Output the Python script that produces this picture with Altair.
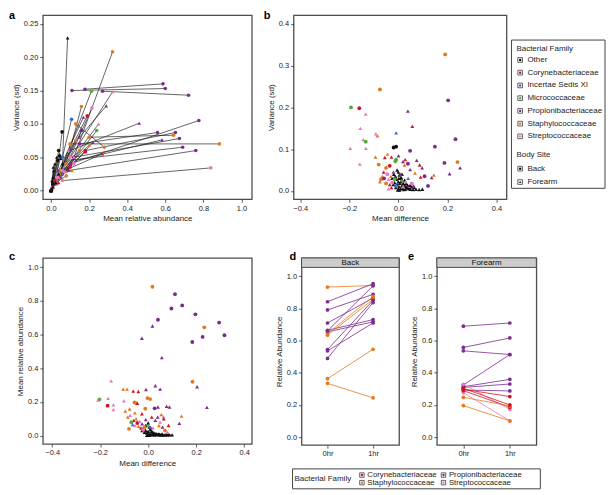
import altair as alt
import pandas as pd

FONT = "Liberation Sans"

FAMILIES = ["Other", "Corynebacteriaceae", "Incertae Sedis XI", "Micrococcaceae",
            "Propionibacteriaceae", "Staphylococcaceae", "Streptococcaceae"]
FAMILY_COLORS = ["#111111", "#D0141E", "#3A66C8", "#55AA33", "#7B2A8E", "#E2791C", "#E37AC0"]
SITES = ["Back", "Forearm"]
SITE_SHAPES = ["circle", "triangle-up"]
CODE = {"O": "Other", "C": "Corynebacteriaceae", "I": "Incertae Sedis XI", "M": "Micrococcaceae",
        "P": "Propionibacteriaceae", "S": "Staphylococcaceae", "T": "Streptococcaceae"}
SITE_CODE = {"B": "Back", "F": "Forearm"}

# ---------------- panel a: segments (start -> end) ----------------
a_x0 = [0.178, 0.110, 0.270, 0.120, 0.060, 0.150, 0.100, 0.100, 0.150, 0.180,
        0.200, 0.120, 0.130, 0.100, 0.080, 0.090, 0.060, 0.070, 0.130, 0.050,
        0.080, 0.100, 0.080, 0.060, 0.030, 0.040, 0.050, 0.060, 0.040, 0.050,
        0.030, 0.020, 0.030, 0.020, 0.020, 0.010, 0.010, 0.015, 0.010, 0.005,
        0.020, 0.030, 0.040, 0.050, 0.010, 0.000, 0.000, 0.000, 0.005, 0.000,
        0.003, 0.000, 0.000, 0.002, 0.001, 0.000, 0.060, 0.040, 0.050]
a_y0 = [0.152, 0.150, 0.149, 0.050, 0.040, 0.080, 0.060, 0.040, 0.070, 0.060,
        0.080, 0.050, 0.045, 0.070, 0.045, 0.030, 0.015, 0.030, 0.100, 0.030,
        0.040, 0.050, 0.040, 0.050, 0.020, 0.030, 0.020, 0.030, 0.020, 0.020,
        0.010, 0.010, 0.015, 0.015, 0.010, 0.005, 0.010, 0.010, 0.005, 0.005,
        0.010, 0.020, 0.020, 0.030, 0.010, 0.000, 0.000, 0.000, 0.003, 0.000,
        0.002, 0.001, 0.000, 0.001, 0.000, 0.000, 0.030, 0.020, 0.025]
a_x1 = [0.588, 0.600, 0.722, 0.323, 0.087, 0.290, 0.463, 0.776, 0.559, 0.653,
        0.643, 0.674, 0.583, 0.884, 0.691, 0.760, 0.839, 0.270, 0.280, 0.212,
        0.323, 0.215, 0.160, 0.108, 0.058, 0.170, 0.240, 0.200, 0.180, 0.220,
        0.150, 0.120, 0.090, 0.100, 0.070, 0.060, 0.050, 0.080, 0.040, 0.030,
        0.160, 0.190, 0.250, 0.130, 0.040, 0.030, 0.020, 0.015, 0.010, 0.035,
        0.025, 0.010, 0.005, 0.040, 0.012, 0.045, 0.120, 0.090, 0.110]
a_y1 = [0.160, 0.153, 0.143, 0.208, 0.229, 0.127, 0.101, 0.105, 0.087, 0.087,
        0.083, 0.078, 0.076, 0.070, 0.065, 0.060, 0.034, 0.055, 0.065, 0.149,
        0.148, 0.124, 0.126, 0.107, 0.088, 0.110, 0.090, 0.068, 0.058, 0.072,
        0.060, 0.050, 0.045, 0.035, 0.028, 0.025, 0.048, 0.022, 0.012, 0.020,
        0.090, 0.112, 0.100, 0.075, 0.060, 0.050, 0.040, 0.030, 0.020, 0.045,
        0.012, 0.006, 0.015, 0.025, 0.035, 0.052, 0.040, 0.060, 0.030]
a_fam = ("P P P S O P P P P P  S P P S P P T C S M  T T S I O P M S C P  "
         "S T M C T I O S C T  P C T S O O O O O O  O O O O O O T T S").split()
a_site = ("B B B B F F F B B B  B B F B B B B F B B  F B B B B F B F B F  "
          "B F B B B F F B F B  B B F B B F F F F B  F F F F F B B F F").split()

# ---------------- panel b: mean difference vs variance ----------------
b_x = [0.191, -0.075, 0.203, -0.193, -0.159, -0.133, 0.039, 0.057, -0.155, -0.009,
       -0.092, -0.085, -0.143, -0.133, 0.233, 0.149, -0.196, -0.132, -0.019, -0.009,
       0.048, -0.157, -0.093, -0.080, -0.055, -0.044, -0.028, 0.001, -0.009, -0.012,
       0.188, 0.241, 0.252, 0.209, 0.145, 0.136, 0.107, 0.121, 0.087, 0.091,
       0.097, 0.075, 0.068, 0.028, 0.019, 0.039, 0.048, 0.025, -0.035, -0.050,
       -0.060, -0.065, -0.070, -0.075, -0.058, -0.045, -0.040, -0.030, -0.025, -0.035,
       -0.050, -0.020, -0.015, 0.010, 0.015, 0.030, 0.040, 0.055, 0.062, -0.028,
       -0.040, -0.010, 0.020]
b_y = [0.327, 0.243, 0.217, 0.200, 0.198, 0.184, 0.191, 0.155, 0.150, 0.139,
       0.137, 0.132, 0.123, 0.118, 0.124, 0.106, 0.102, 0.102, 0.104, 0.106,
       0.096, 0.064, 0.081, 0.063, 0.080, 0.088, 0.081, 0.084, 0.075, 0.071,
       0.067, 0.069, 0.055, 0.041, 0.038, 0.032, 0.035, 0.012, 0.062, 0.033,
       0.055, 0.073, 0.043, 0.075, 0.070, 0.065, 0.051, 0.062, 0.060, 0.055,
       0.045, 0.035, 0.028, 0.022, 0.030, 0.040, 0.028, 0.035, 0.020, 0.015,
       0.018, 0.045, 0.028, 0.040, 0.025, 0.022, 0.030, 0.018, 0.012, 0.008,
       0.005, 0.012, 0.010]
b_fam = ("S S P M C T P C T I  T S T M P P T T O O  P T S S C S C P M M  "
         "P S P P S P P P C C  P P S C P P P S C S  C S S S P T T S T C  "
         "S P M P M T I T P C  T I T").split()
b_site = ("B B B B B F F F F F  F F F B B B F F B B  B F F B F F F F B B  "
          "B B F F F F B B F F  F F F F F B F F B B  F F B F B B F F B F  "
          "B F B F F F F B F F  F B F").split()
b_other_x = [-0.025, -0.018, -0.012, -0.005, 0.000, 0.004, 0.008, 0.012, 0.016, 0.020,
             0.025, 0.030, 0.035, 0.040, 0.045, 0.050, 0.060, 0.072, 0.085, 0.098,
             -0.020, -0.015, -0.010, -0.005, 0.000, 0.003, 0.006, 0.010, 0.014, 0.018,
             0.000, 0.005, 0.022, 0.028, -0.008, 0.010, 0.032, 0.038, 0.015, 0.002,
             -0.002, 0.055, 0.065, 0.048, 0.026]
b_other_y = [0.030, 0.040, 0.035, 0.050, 0.045, 0.038, 0.030, 0.032, 0.025, 0.018,
             0.014, 0.010, 0.008, 0.006, 0.005, 0.004, 0.003, 0.004, 0.003, 0.004,
             0.015, 0.020, 0.008, 0.015, 0.022, 0.010, 0.018, 0.005, 0.012, 0.006,
             0.004, 0.002, 0.003, 0.004, 0.028, 0.022, 0.018, 0.014, 0.040, 0.030,
             0.002, 0.010, 0.008, 0.013, 0.026]

# ---------------- panel c: mean difference vs mean abundance ----------------
c_x = [0.018, 0.112, 0.142, 0.097, 0.197, 0.041, 0.296, 0.018, 0.234, 0.318,
       0.227, -0.026, 0.184, 0.057, -0.154, 0.185, 0.204, 0.030, 0.050, -0.009,
       -0.104, -0.088, -0.062, -0.041, 0.245, 0.139, 0.130, -0.203, -0.209, -0.167,
       -0.169, -0.145, -0.145, -0.101, -0.095, -0.077, -0.057, -0.050, -0.045, -0.003,
       0.008, 0.027, 0.041, 0.077, 0.089, 0.064, -0.012, -0.060, -0.050, -0.070,
       -0.065, -0.055, -0.045, -0.040, -0.035, -0.030, -0.025, -0.020, -0.015, -0.010,
       0.000, 0.010, 0.020, 0.030, 0.045, 0.050, 0.060, 0.065, 0.070, 0.080,
       0.085, -0.080, -0.085, -0.075, 0.040, 0.015, -0.026, 0.055, -0.055]
c_y = [0.884, 0.840, 0.773, 0.755, 0.720, 0.688, 0.671, 0.651, 0.643, 0.596,
       0.586, 0.578, 0.556, 0.463, 0.325, 0.320, 0.290, 0.296, 0.276, 0.274,
       0.276, 0.276, 0.264, 0.262, 0.168, 0.116, 0.073, 0.215, 0.211, 0.221,
       0.178, 0.183, 0.154, 0.207, 0.146, 0.158, 0.197, 0.193, 0.191, 0.223,
       0.217, 0.162, 0.170, 0.174, 0.170, 0.112, 0.160, 0.090, 0.100, 0.080,
       0.065, 0.060, 0.075, 0.055, 0.085, 0.045, 0.070, 0.035, 0.050, 0.095,
       0.060, 0.050, 0.045, 0.090, 0.060, 0.080, 0.050, 0.100, 0.030, 0.020,
       0.060, 0.040, 0.110, 0.120, 0.110, 0.110, 0.130, 0.125, 0.135]
c_fam = ("S P P P P P P P S P  P P P P T S P P P P  S S C C P S P M T T  "
         "C T T T S S S S C S  S P P C P T S C S M  I T C S T C P T S P  "
         "M I T P S T P C S T  C S S T P C C S S").split()
c_site = ("B B B B B B B F B B  B F B F F B F F F F  F F F F F F F B F F  "
          "B F F F F F B B F B  B B F F F F B F F B  F F B F F F F B B F  "
          "F F F F F F F F B F  F B F F F F F F F").split()
c_other_x = [-0.020, -0.010, 0.000, 0.005, 0.010, 0.015, 0.020, 0.025, 0.030, 0.035,
             0.040, 0.045, 0.050, 0.055, 0.060, 0.065, 0.070, 0.080, 0.090, 0.100,
             -0.015, -0.010, -0.005, 0.000, 0.003, 0.008, 0.012, 0.018, 0.022, 0.028,
             0.000, -0.005, 0.005, 0.033, 0.042, 0.048, 0.058, 0.075, 0.085, -0.025,
             0.010, -0.015]
c_other_y = [0.045, 0.060, 0.075, 0.050, 0.035, 0.025, 0.020, 0.015, 0.010, 0.008,
             0.006, 0.005, 0.005, 0.004, 0.004, 0.003, 0.004, 0.003, 0.004, 0.004,
             0.020, 0.030, 0.015, 0.025, 0.008, 0.012, 0.006, 0.004, 0.008, 0.003,
             0.003, 0.002, 0.002, 0.012, 0.010, 0.008, 0.010, 0.008, 0.008, 0.030,
             0.045, 0.040]

# ---------------- panels d / e: 0hr -> 1hr ----------------
d_fam = "S P P P P P S S P P P S S P".split()
d_0hr = [0.932, 0.841, 0.790, 0.709, 0.664, 0.654, 0.643, 0.633, 0.544, 0.536, 0.489, 0.363, 0.334, 0.660]
d_1hr = [0.942, 0.953, 0.887, 0.864, 0.730, 0.716, 0.874, 0.856, 0.850, 0.709, 0.836, 0.546, 0.244, 0.940]
e_fam = "P P P P P P P T T C C S S C".split()
e_0hr = [0.689, 0.557, 0.536, 0.324, 0.313, 0.309, 0.293, 0.328, 0.276, 0.297, 0.289, 0.247, 0.196, 0.303]
e_1hr = [0.709, 0.616, 0.513, 0.513, 0.359, 0.330, 0.287, 0.173, 0.101, 0.252, 0.186, 0.194, 0.101, 0.200]
TIMES = ["0hr", "1hr"]

BOTTOM_FAMILIES = ["Corynebacteriaceae", "Propionibacteriaceae", "Staphylococcaceae", "Streptococcaceae"]

# ---------------- helpers ----------------
color_scale = alt.Scale(domain=FAMILIES, range=FAMILY_COLORS)
shape_scale = alt.Scale(domain=SITES, range=SITE_SHAPES)
NOVIEW = alt.ViewBackground(stroke="transparent")


def qx(field, domain, values, fmt, title):
    return alt.X(f"{field}:Q", scale=alt.Scale(domain=domain, nice=False, zero=False),
                 axis=alt.Axis(values=values, format=fmt, title=title))


def qy(field, domain, values, fmt, title):
    return alt.Y(f"{field}:Q", scale=alt.Scale(domain=domain, nice=False, zero=False),
                 axis=alt.Axis(values=values, format=fmt, title=title))


def label(letter, dx, dy, opacity=1):
    return alt.Chart(pd.DataFrame({"t": [letter]})).mark_text(
        font=FONT, fontSize=11, fontWeight="bold", align="left", baseline="middle", color="black",
        opacity=opacity
    ).encode(text="t:N", x=alt.value(dx), y=alt.value(dy))


def scatter(df, xe, ye, size):
    return alt.Chart(df).mark_point(filled=True, size=size, opacity=1).encode(
        x=xe, y=ye,
        color=alt.Color("fam:N", scale=color_scale, legend=None),
        shape=alt.Shape("site:N", scale=shape_scale, legend=None))


DIFF_TICKS = [-0.4, -0.2, 0.0, 0.2, 0.4]
TOP_H = 185

# ---------------- panel a ----------------
seg_a = pd.DataFrame({"x0": a_x0, "y0": a_y0, "x1": a_x1, "y1": a_y1,
                      "fam": [CODE[f] for f in a_fam], "site": [SITE_CODE[s] for s in a_site]})
pts_a = pd.concat([
    seg_a[["x0", "y0", "fam", "site"]].rename(columns={"x0": "x", "y0": "y"}),
    seg_a[["x1", "y1", "fam", "site"]].rename(columns={"x1": "x", "y1": "y"}),
])
A_XD, A_YD = [-0.043, 1.054], [-0.013, 0.263]
A_XT, A_YT = [0, 0.2, 0.4, 0.6, 0.8, 1.0], [0, 0.05, 0.10, 0.15, 0.20, 0.25]
rules_a = alt.Chart(seg_a).mark_rule(color="#1e1e1e", strokeWidth=0.8, opacity=0.85).encode(
    x=qx("x0", A_XD, A_XT, ".1f", "Mean relative abundance"),
    y=qy("y0", A_YD, A_YT, ".2f", "Variance (sd)"),
    x2="x1:Q", y2="y1:Q")
panel_a = alt.layer(
    rules_a,
    scatter(pts_a, qx("x", A_XD, A_XT, ".1f", "Mean relative abundance"),
            qy("y", A_YD, A_YT, ".2f", "Variance (sd)"), 13),
    label("a", -34, 1),
).properties(width=210, height=TOP_H)

# ---------------- panel b ----------------
df_b = pd.concat([
    pd.DataFrame({"x": b_other_x, "y": b_other_y, "fam": "Other", "site": "Forearm"}),
    pd.DataFrame({"x": b_x, "y": b_y, "fam": [CODE[f] for f in b_fam],
                  "site": [SITE_CODE[s] for s in b_site]}),
])
panel_b = alt.layer(
    scatter(df_b, qx("x", [-0.427, 0.441], DIFF_TICKS, ".1f", "Mean difference"),
            qy("y", [-0.02, 0.421], [0, 0.1, 0.2, 0.3, 0.4], ".1f", "Variance (sd)"), 15),
    label("b", -30, 1),
).properties(width=214, height=TOP_H)

# ---------------- legend for b ----------------
LB_W = 94
lb_text_rows = ([("Bacterial Family", 5, 34)] +
                [(f, 16, 45 + 12.8 * i) for i, f in enumerate(FAMILIES)] +
                [("Body Site", 5, 140.7)] +
                [(s, 16, 154.3 + 13.4 * j) for j, s in enumerate(SITES)])
lb_text = pd.DataFrame(lb_text_rows, columns=["t", "px", "py"])
lb_sym = pd.DataFrame(
    [(f, "Back", 8.7, 45 + 12.8 * i) for i, f in enumerate(FAMILIES)] +
    [("Other", s, 8.7, 154.3 + 13.4 * j) for j, s in enumerate(SITES)],
    columns=["fam", "site", "px", "py"])
ID_X = alt.X("px:Q", scale=None)
ID_Y = alt.Y("py:Q", scale=None)
box_b = alt.Chart(pd.DataFrame({"k": [1]})).mark_rect(fill="white", stroke="#444", strokeWidth=1).encode(
    x=alt.value(0), x2=alt.value(LB_W), y=alt.value(25), y2=alt.value(174))
legend_b = alt.layer(
    box_b,
    alt.Chart(lb_text).mark_text(font=FONT, fontSize=8, align="left", baseline="middle", color="#222").encode(
        x=ID_X, y=ID_Y, text="t:N"),
    alt.Chart(lb_sym).mark_square(size=22, fill="white", stroke="#222", strokeWidth=0.7, opacity=1).encode(
        x=ID_X, y=ID_Y),
    alt.Chart(lb_sym).mark_point(filled=True, size=6, opacity=1).encode(
        x=ID_X, y=ID_Y,
        color=alt.Color("fam:N", scale=color_scale, legend=None),
        shape=alt.Shape("site:N", scale=shape_scale, legend=None)),
    label("b", 2, 1, opacity=0),
).properties(width=LB_W, height=TOP_H, view=NOVIEW)

# ---------------- panel c ----------------
df_c = pd.concat([
    pd.DataFrame({"x": c_other_x, "y": c_other_y, "fam": "Other", "site": "Forearm"}),
    pd.DataFrame({"x": c_x, "y": c_y, "fam": [CODE[f] for f in c_fam],
                  "site": [SITE_CODE[s] for s in c_site]}),
])
panel_c = alt.layer(
    scatter(df_c, qx("x", [-0.439, 0.432], DIFF_TICKS, ".1f", "Mean difference"),
            qy("y", [-0.05, 1.055], [0, 0.2, 0.4, 0.6, 0.8, 1.0], ".1f", "Mean relative abundance"), 15),
    label("c", -34, -1),
).properties(width=210, height=187)


# ---------------- panels d / e ----------------
def timecourse(name, fams, v0, v1, letter, lx, width):
    rows = []
    for i, (f, a, b) in enumerate(zip(fams, v0, v1)):
        rows.append({"id": i, "time": TIMES[0], "val": a, "fam": CODE[f]})
        rows.append({"id": i, "time": TIMES[1], "val": b, "fam": CODE[f]})
    df = pd.DataFrame(rows)
    xe = alt.X("time:N", scale=alt.Scale(type="point", domain=TIMES, padding=0.57),
               axis=alt.Axis(title=None, labelAngle=0))
    ye = alt.Y("val:Q", scale=alt.Scale(domain=[-0.049, 1.113], nice=False, zero=False),
               axis=alt.Axis(values=[0, 0.2, 0.4, 0.6, 0.8, 1.0], format=".1f", title="Relative Abundance"))
    col = alt.Color("fam:N", scale=color_scale, legend=None)
    lines = alt.Chart(df).mark_line(strokeWidth=1, opacity=0.8).encode(x=xe, y=ye, detail="id:N", color=col)
    pts = alt.Chart(df).mark_circle(size=14, opacity=1).encode(x=xe, y=ye, color=col)
    sdf = pd.DataFrame({"t": [name]})
    strip = alt.Chart(sdf).mark_rect(fill="#CCCCCC", stroke="#4d4d4d", strokeWidth=1).encode(
        x=alt.value(0), x2=alt.value(width), y=alt.value(0), y2=alt.value(9.5))
    stext = alt.Chart(sdf).mark_text(font=FONT, fontSize=8, align="center", baseline="middle", color="#111").encode(
        text="t:N", x=alt.value(width / 2), y=alt.value(5))
    return alt.layer(strip, stext, lines, pts, label(letter, lx, -1)).properties(width=width, height=188)


panel_d = timecourse("Back", d_fam, d_0hr, d_1hr, "d", -12, 98)
panel_e = timecourse("Forearm", e_fam, e_0hr, e_1hr, "e", -29, 100)

# ---------------- bottom legend ----------------
bl_items = pd.DataFrame({
    "fam": BOTTOM_FAMILIES,
    "px": [60.7 + 82 * (i % 2) for i in range(len(BOTTOM_FAMILIES))],
    "py": [6.2 + 7.6 * (i // 2) for i in range(len(BOTTOM_FAMILIES))],
})
bl_items["tx"] = bl_items["px"] + 5.4
box_bl = alt.Chart(pd.DataFrame({"k": [1]})).mark_rect(fill="white", stroke="#444", strokeWidth=1).encode(
    x=alt.value(-9), x2=alt.value(240), y=alt.value(0), y2=alt.value(20))
anchor_bl = alt.Chart(pd.DataFrame({"k": [1]})).mark_point(size=1, opacity=0).encode(
    x=alt.value(-28), y=alt.value(10))
legend_bottom = alt.layer(
    anchor_bl,
    box_bl,
    alt.Chart(pd.DataFrame({"t": ["Bacterial Family"]})).mark_text(
        font=FONT, fontSize=8, align="left", baseline="middle", color="#222").encode(
        text="t:N", x=alt.value(-7), y=alt.value(10)),
    alt.Chart(bl_items).mark_square(size=20, fill="white", stroke="#222", strokeWidth=0.7, opacity=1).encode(
        x=ID_X, y=ID_Y),
    alt.Chart(bl_items).mark_circle(size=6, opacity=1).encode(
        x=ID_X, y=ID_Y, color=alt.Color("fam:N", scale=color_scale, legend=None)),
    alt.Chart(bl_items).mark_text(font=FONT, fontSize=7.8, align="left", baseline="middle", color="#222").encode(
        x=alt.X("tx:Q", scale=None), y=ID_Y, text="fam:N"),
).properties(width=232, height=20, view=NOVIEW)

# ---------------- layout ----------------
row1 = alt.hconcat(panel_a, alt.hconcat(panel_b, legend_b, spacing=2), spacing=10)
right2 = alt.vconcat(alt.hconcat(panel_d, panel_e, spacing=6), legend_bottom, spacing=8)
row2 = alt.hconcat(panel_c, right2, spacing=19)

chart = alt.vconcat(row1, row2, spacing=26).properties(
    padding={"left": 0, "top": 0, "right": 0, "bottom": 0}
).configure(font=FONT).configure_view(
    stroke="#4d4d4d", strokeWidth=1.3
).configure_axis(
    domain=False, grid=False, ticks=True, tickColor="#333", tickSize=3, tickWidth=0.8,
    labelFontSize=7.5, labelColor="#222", labelPadding=2, labelFont=FONT,
    titleFontSize=8, titleFontWeight="normal", titleColor="#222", titlePadding=3, titleFont=FONT
)

chart.save("out.html", embed_options={"renderer": "svg", "actions": False})
